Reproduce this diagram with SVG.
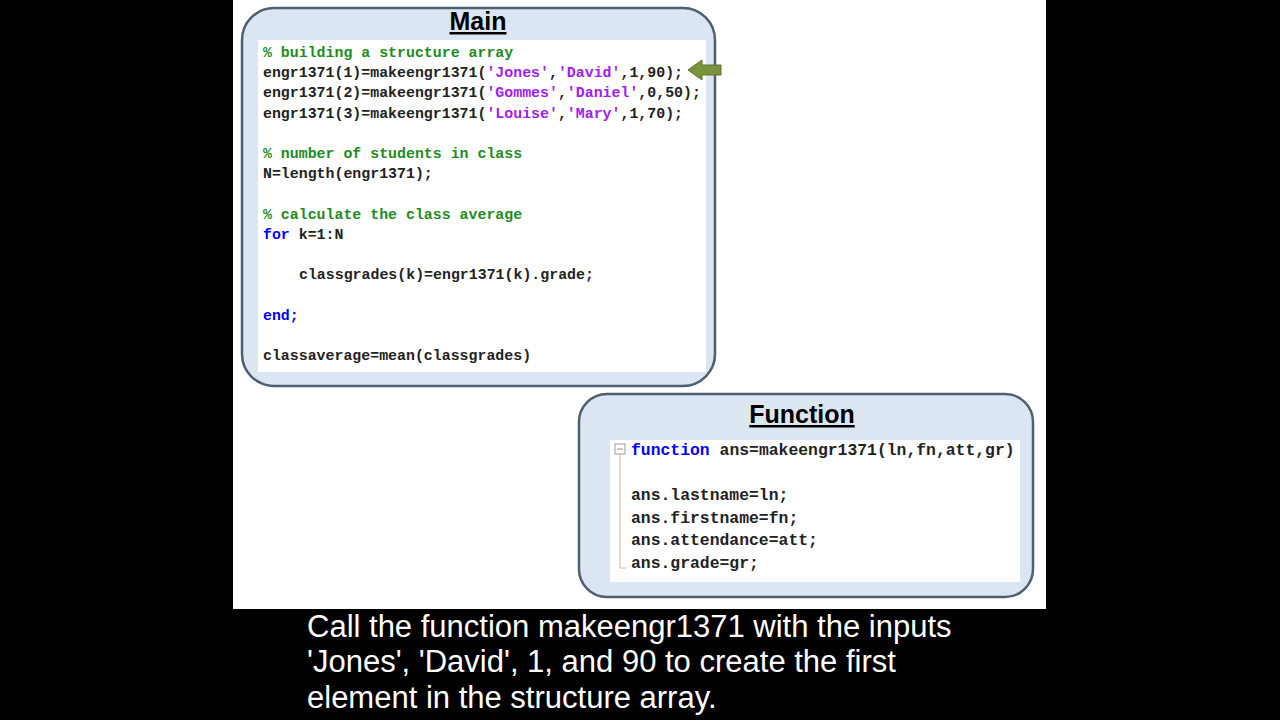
<svg xmlns="http://www.w3.org/2000/svg" width="1280" height="720" viewBox="0 0 1280 720">
<style>
.box{fill:#dce6f2;stroke:#4f5f70;stroke-width:2.5}
.code{fill:#fff}
.t{font-family:"Liberation Sans",Arial,sans-serif;font-weight:bold;text-decoration:underline;fill:#000;text-anchor:middle;font-size:25px}
.m{font-family:"Liberation Mono","Courier New",monospace;font-weight:bold;fill:#222}
.c{fill:#228b22}.s{fill:#a020f0}.k{fill:#0000ff}
.cap{font-family:"Liberation Sans",Arial,sans-serif;fill:#fff;font-size:31px}
</style>
<rect width="1280" height="720" fill="#000"/>
<rect x="233" y="0" width="813" height="609" fill="#fff"/>
<g id="main">
<rect class="box" x="242" y="8" width="473" height="378" rx="32"/>
<rect class="code" x="258" y="40" width="448" height="332"/>
<text class="t" x="478" y="30">Main</text>
<g class="m" font-size="14.9px">
<text x="263" y="57" class="c">% building a structure array</text>
<text x="263" y="77">engr1371(1)=makeengr1371(<tspan class="s">'Jones'</tspan>,<tspan class="s">'David'</tspan>,1,90);</text>
<text x="263" y="97">engr1371(2)=makeengr1371(<tspan class="s">'Gommes'</tspan>,<tspan class="s">'Daniel'</tspan>,0,50);</text>
<text x="263" y="118">engr1371(3)=makeengr1371(<tspan class="s">'Louise'</tspan>,<tspan class="s">'Mary'</tspan>,1,70);</text>
<text x="263" y="158" class="c">% number of students in class</text>
<text x="263" y="178">N=length(engr1371);</text>
<text x="263" y="219" class="c">% calculate the class average</text>
<text x="263" y="239"><tspan class="k">for</tspan> k=1:N</text>
<text x="299" y="279">classgrades(k)=engr1371(k).grade;</text>
<text x="263" y="320" class="k">end;</text>
<text x="263" y="360">classaverage=mean(classgrades)</text>
</g>
</g>
<g id="arrow">
<polygon points="688,70 702,60 702,65 721,65 721,75 702,75 702,80" fill="#77933c" stroke="#5a7030" stroke-width="1"/>
</g>
<g id="function">
<rect class="box" x="579" y="394" width="454" height="203" rx="28"/>
<rect class="code" x="610" y="440" width="410" height="142"/>
<text class="t" x="802" y="423">Function</text>
<rect x="615" y="444" width="10" height="10" fill="#fff" stroke="#999" stroke-width="1"/>
<line x1="617" y1="449" x2="623" y2="449" stroke="#999"/>
<polyline points="620,454 620,568 626,568" fill="none" stroke="#bbb"/>
<g class="m" font-size="16.4px">
<text x="631" y="455"><tspan class="k">function</tspan> ans=makeengr1371(ln,fn,att,gr)</text>
<text x="631" y="500">ans.lastname=ln;</text>
<text x="631" y="523">ans.firstname=fn;</text>
<text x="631" y="545">ans.attendance=att;</text>
<text x="631" y="568">ans.grade=gr;</text>
</g>
</g>
<g id="caption" class="cap">
<text x="307" y="637">Call the function makeengr1371 with the inputs</text>
<text x="307" y="672">'Jones', 'David', 1, and 90 to create the first</text>
<text x="307" y="708">element in the structure array.</text>
</g>
</svg>
